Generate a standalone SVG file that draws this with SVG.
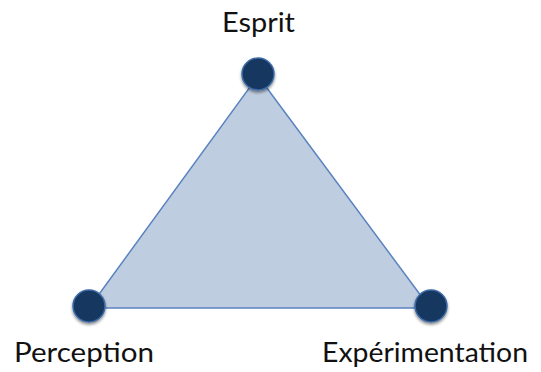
<svg xmlns="http://www.w3.org/2000/svg" width="541" height="372" viewBox="0 0 541 372">
  <defs>
    <filter id="shadow" x="-50%" y="-50%" width="200%" height="200%">
      <feGaussianBlur in="SourceAlpha" stdDeviation="1.5"/>
      <feOffset dx="0" dy="2" result="b"/>
      <feComponentTransfer><feFuncA type="linear" slope="0.45"/></feComponentTransfer>
      <feMerge><feMergeNode/><feMergeNode in="SourceGraphic"/></feMerge>
    </filter>
  </defs>
  <style>
    .tri { fill: #bfcde0; stroke: #5a83c0; stroke-width: 1.5; stroke-linejoin: round; }
    .dot { fill: #173861; stroke: #3c6aa6; stroke-width: 1.5; filter: url(#shadow); }
    .lbl { font-family: Lato, "Open Sans", "Liberation Sans", sans-serif; font-size: 27px; fill: #111111; text-anchor: middle; }
  </style>
  <g id="connectors">
    <polygon class="tri" points="258,76 89,308 430,308"/>
  </g>
  <g id="node-esprit">
    <circle class="dot" cx="258" cy="74" r="16"/>
    <text class="lbl" x="258.5" y="32" textLength="73" lengthAdjust="spacingAndGlyphs">Esprit</text>
  </g>
  <g id="node-perception">
    <circle class="dot" cx="89" cy="306" r="16"/>
    <text class="lbl" x="84" y="362" textLength="140" lengthAdjust="spacingAndGlyphs">Perception</text>
  </g>
  <g id="node-experimentation">
    <circle class="dot" cx="431" cy="306" r="16"/>
    <text class="lbl" x="425" y="362" textLength="206" lengthAdjust="spacingAndGlyphs">Expérimentation</text>
  </g>
</svg>
